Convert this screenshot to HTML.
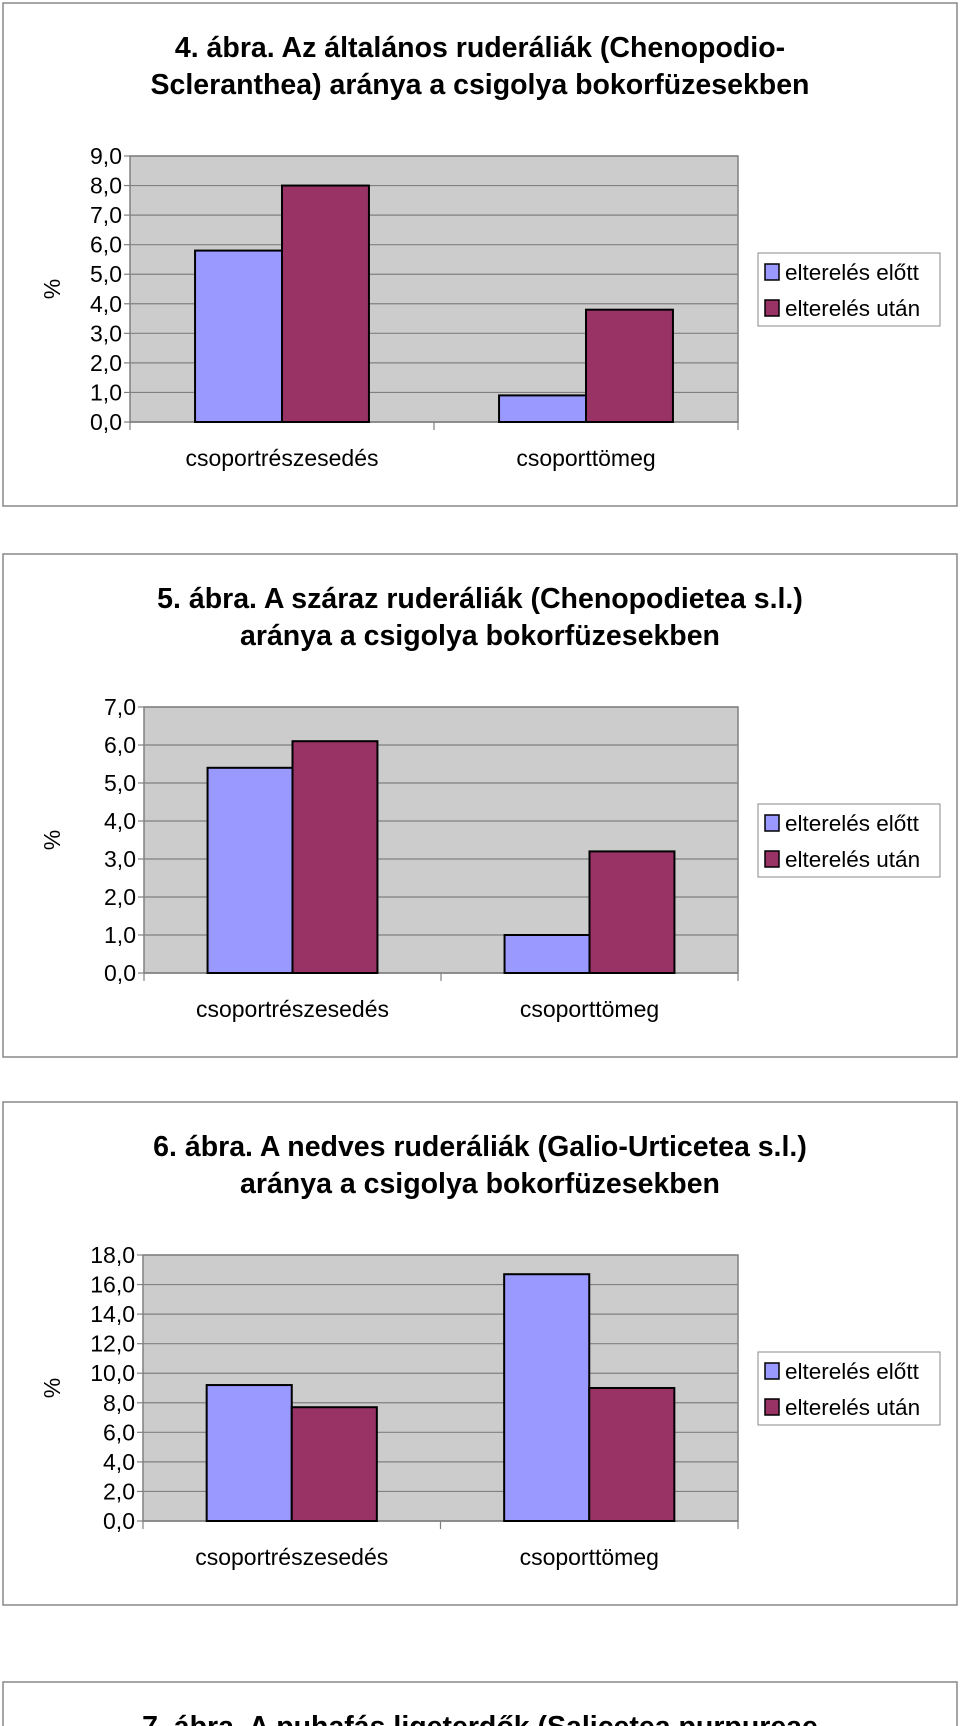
<!DOCTYPE html>
<html><head><meta charset="utf-8">
<style>
html,body{margin:0;padding:0;background:#fff;overflow:hidden;}
body{width:960px;height:1726px;overflow:hidden;position:relative;font-family:"Liberation Sans",Arial,sans-serif;}
svg{display:block;}
svg text{font-family:"Liberation Sans",Arial,sans-serif;}
</style></head>
<body>
<svg id="root" width="960" height="1726" viewBox="0 0 960 1726" xmlns="http://www.w3.org/2000/svg"></svg>
<script>
const categories = ["csoportrészesedés", "csoporttömeg"];
const seriesNames = ["elterelés előtt", "elterelés után"];
const c4Before = [5.8, 0.9];
const c4After = [8.0, 3.8];
const c4Ticks = ["0,0","1,0","2,0","3,0","4,0","5,0","6,0","7,0","8,0","9,0"];
const c5Before = [5.4, 1.0];
const c5After = [6.1, 3.2];
const c5Ticks = ["0,0","1,0","2,0","3,0","4,0","5,0","6,0","7,0"];
const c6Before = [9.2, 16.7];
const c6After = [7.7, 9.0];
const c6Ticks = ["0,0","2,0","4,0","6,0","8,0","10,0","12,0","14,0","16,0","18,0"];
const c4Title = ["4. ábra. Az általános ruderáliák (Chenopodio-", "Scleranthea) aránya a csigolya bokorfüzesekben"];
const c5Title = ["5. ábra. A száraz ruderáliák (Chenopodietea s.l.)", "aránya a csigolya bokorfüzesekben"];
const c6Title = ["6. ábra. A nedves ruderáliák (Galio-Urticetea s.l.)", "aránya a csigolya bokorfüzesekben"];
const c7Title = ["7. ábra. A puhafás ligeterdők (Salicetea purpureae", ""];

const NS = "http://www.w3.org/2000/svg";
const root = document.getElementById("root");
function mk(tag, attrs, parent, txt){
  const e = document.createElementNS(NS, tag);
  for (const k in attrs) e.setAttribute(k, attrs[k]);
  if (txt !== undefined) e.textContent = txt;
  parent.appendChild(e);
  return e;
}
const colors = ["#9999ff", "#993366"];

function chart(id, off, title, ticks, before, after, plotLeft){
  const g = mk("g", {transform: "translate(0," + off + ")"}, root);
  
  
  const box = mk("rect", {x: 3, y: 3, width: 954, height: 503, fill: "#fff", stroke: "#888", "stroke-width": 1.5}, g);
  
  
  title.forEach((t, i) => {
    if (!t) return;
    const tt = mk("text", {x: 480, y: 57 + i * 37, "text-anchor": "middle", "font-size": 28.5, "font-weight": "bold", fill: "#000"}, g, t);
    
    
  });
  if (!ticks) return;
  const top = 156, bottom = 422, right = 738;
  const max = parseFloat(ticks[ticks.length - 1].replace(",", "."));
  const y = v => bottom - (v / max) * (bottom - top);
  const plot = mk("rect", {x: plotLeft, y: top, width: right - plotLeft, height: bottom - top, fill: "#cccccc", stroke: "#808080", "stroke-width": 1.5}, g);
  
  
  ticks.forEach(t => {
    const v = parseFloat(t.replace(",", "."));
    const yy = y(v);
    if (v > 0) {
      const gl = mk("line", {x1: plotLeft, x2: right, y1: yy, y2: yy, stroke: "#808080", "stroke-width": 1.2}, g);
      
      
    }
    mk("line", {x1: plotLeft - 6, x2: plotLeft, y1: yy, y2: yy, stroke: "#808080", "stroke-width": 1.2}, g);
    const tl = mk("text", {x: plotLeft - 8, y: yy + 8, "text-anchor": "end", "font-size": 23, fill: "#000"}, g, t);
    
    
  });
  const axis = mk("line", {x1: plotLeft, x2: right, y1: bottom, y2: bottom, stroke: "#808080", "stroke-width": 1.5}, g);
  
  
  const n = categories.length, cw = (right - plotLeft) / n;
  for (let i = 0; i <= n; i++) {
    mk("line", {x1: plotLeft + i * cw, x2: plotLeft + i * cw, y1: bottom, y2: bottom + 8, stroke: "#808080", "stroke-width": 1.2}, g);
  }
  const barW = cw * 0.286;
  categories.forEach((c, i) => {
    const cx = plotLeft + (i + 0.5) * cw;
    [before, after].forEach((arr, s) => {
      const x0 = s === 0 ? cx - barW : cx;
      const b = mk("rect", {x: x0, y: y(arr[i]), width: barW, height: bottom - y(arr[i]), fill: colors[s], stroke: "#000", "stroke-width": 2}, g);
      
      
    });
    const cl = mk("text", {x: cx, y: 466, "text-anchor": "middle", "font-size": 23, fill: "#000"}, g, c);
    
    
  });
  const yt = mk("text", {x: 0, y: 0, "text-anchor": "middle", "font-size": 23, fill: "#000", transform: "translate(60,289) rotate(-90)"}, g, "%");
  
  
  const lg = mk("g", {}, g);
  
  
  mk("rect", {x: 758, y: 253, width: 182, height: 73, fill: "#fff", stroke: "#888", "stroke-width": 1}, lg);
  seriesNames.forEach((s, i) => {
    const ey = 272 + i * 36;
    const sw = mk("rect", {x: 765, y: ey - 8, width: 14, height: 16, fill: colors[i], stroke: "#000", "stroke-width": 1.5}, lg);
    
    
    const lt = mk("text", {x: 785, y: ey + 8, "font-size": 22.5, fill: "#000"}, lg, s);
    
    
  });
}
chart("chart-4", 0, c4Title, c4Ticks, c4Before, c4After, 130);
chart("chart-5", 551, c5Title, c5Ticks, c5Before, c5After, 144);
chart("chart-6", 1099, c6Title, c6Ticks, c6Before, c6After, 143);
chart("chart-7", 1679, c7Title, null, null, null, 143);
</script>
</body></html>
